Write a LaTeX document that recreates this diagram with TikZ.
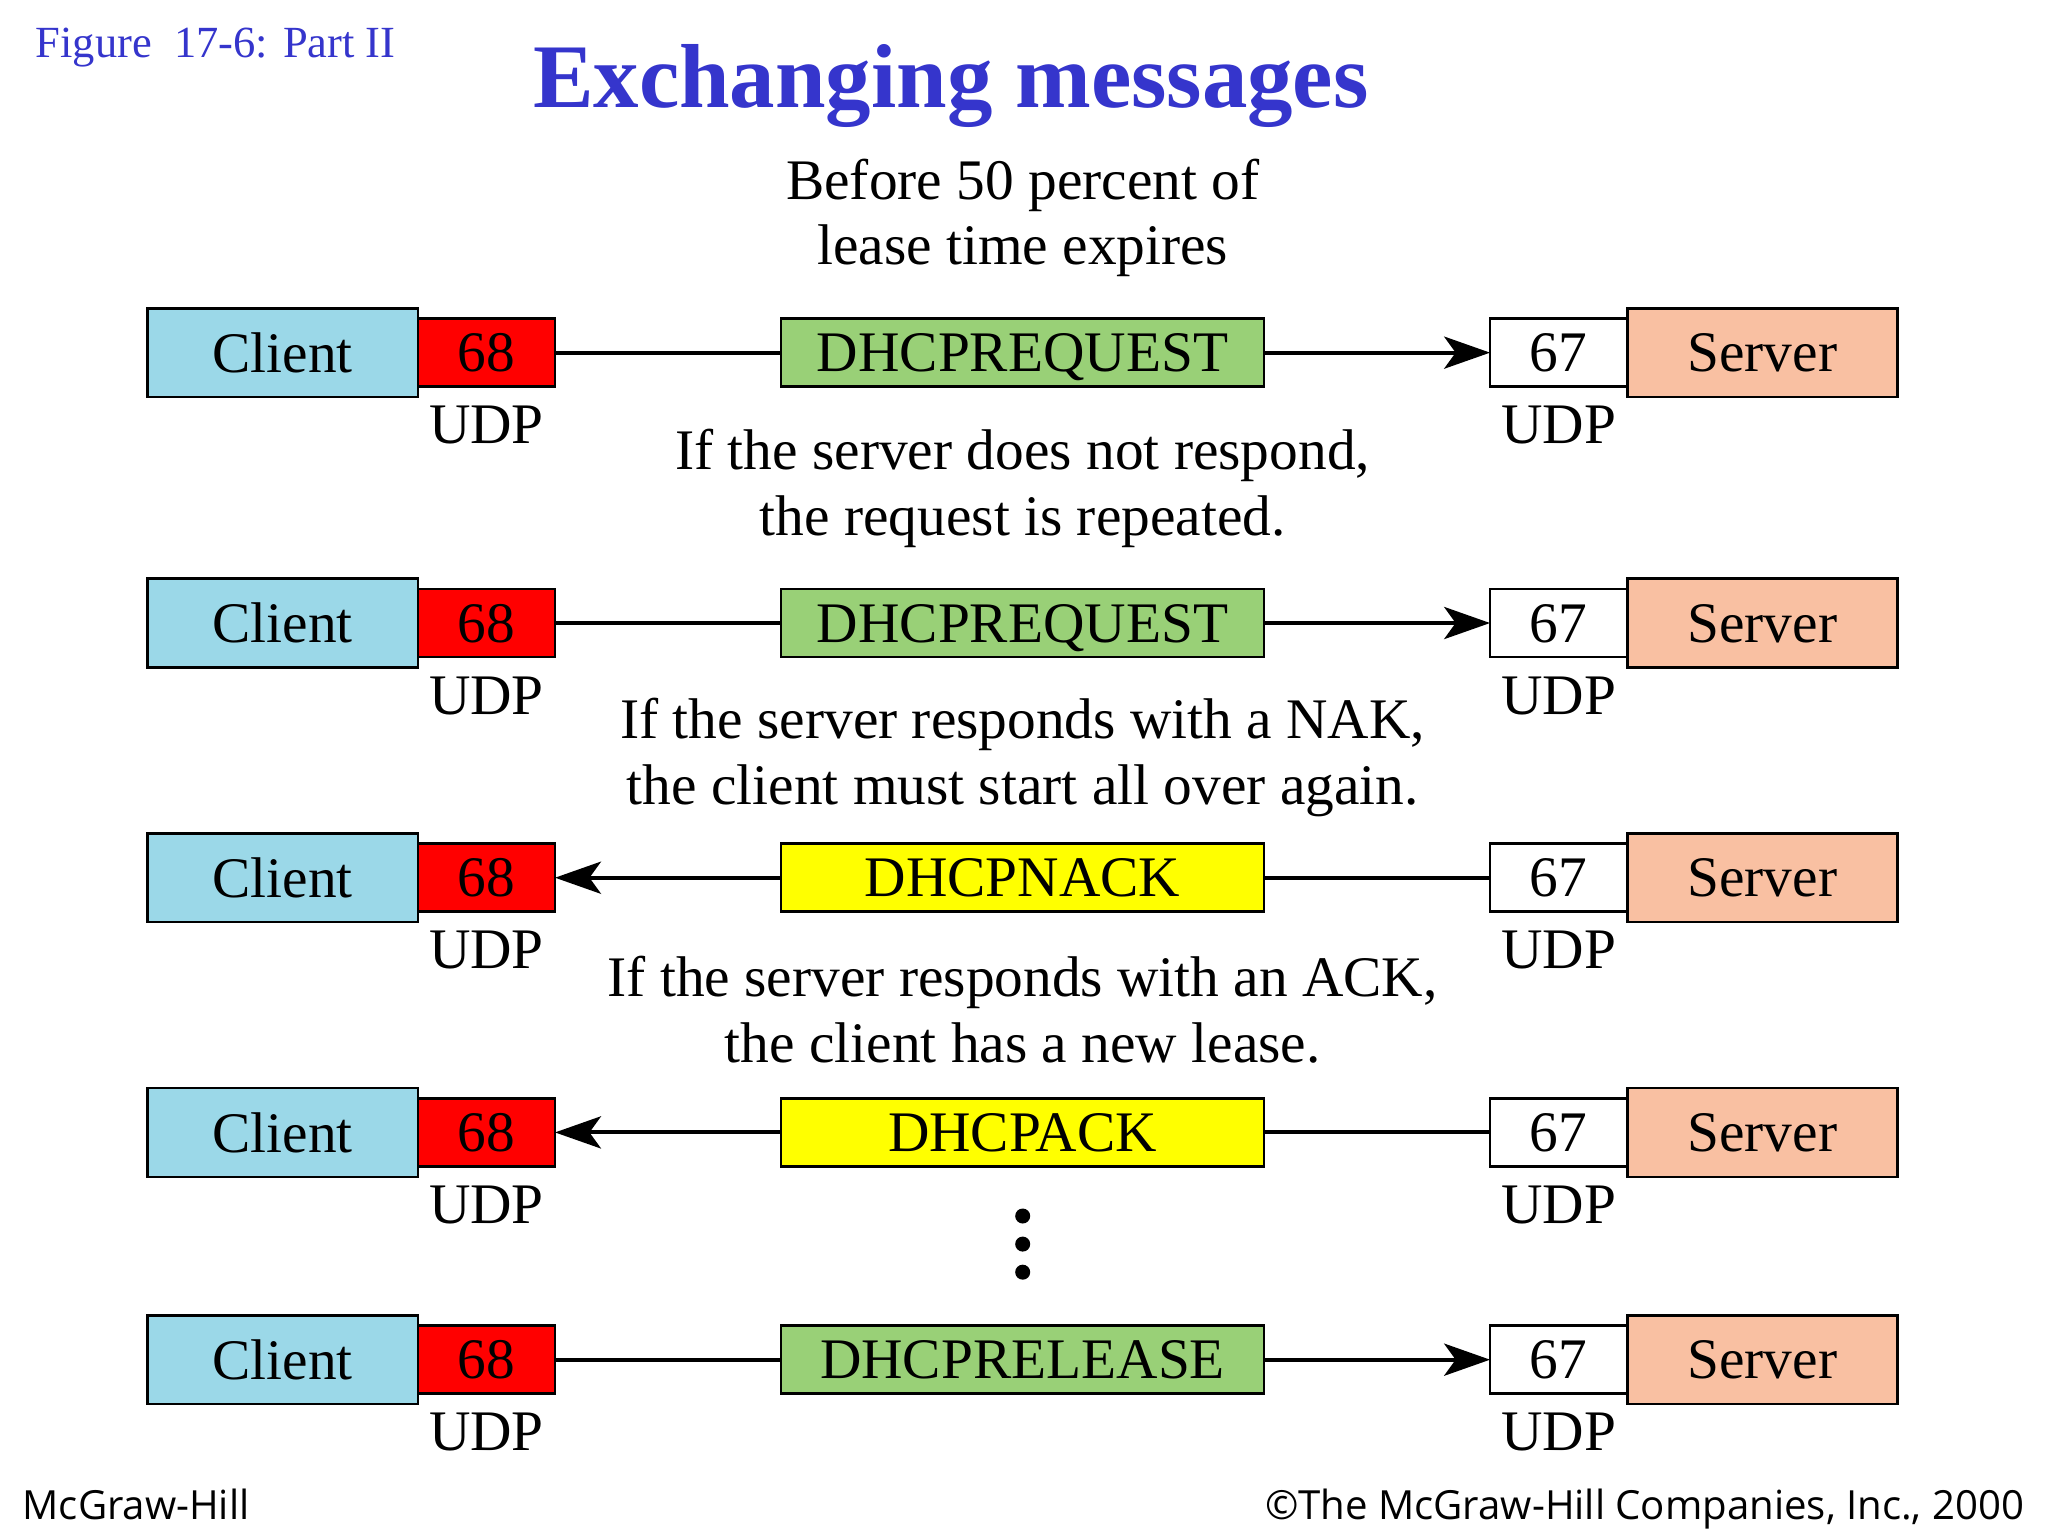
\documentclass[tikz,border=0pt]{standalone}
\usepackage{fontspec}
\setmainfont{Liberation Serif}
\newfontfamily\footfont{Open Sans}
\usepackage{tikz}
\usetikzlibrary{positioning,arrows.meta}
\usepackage{xcolor}
\definecolor{clientblue}{HTML}{9BD8E8}
\definecolor{serversalmon}{HTML}{F9C0A2}
\definecolor{msggreen}{HTML}{99D077}
\definecolor{msgyellow}{HTML}{FFFF00}
\definecolor{titleblue}{HTML}{3535CC}

\begin{document}
\begin{tikzpicture}[
    x=0.02cm, y=-0.02cm,
    every node/.style={font=\fontsize{25}{28.5}\selectfont},
    box/.style={draw, line width=1.15pt, inner sep=0pt, outer sep=0pt, text depth=0pt, minimum height=1.04cm},
    client/.style={box, fill=clientblue, minimum width=4.14cm, minimum height=1.36cm},
    server/.style={box, fill=serversalmon, minimum width=4.14cm, minimum height=1.36cm},
    cport/.style={box, fill=red, minimum width=2.1cm},
    sport/.style={box, fill=white, minimum width=2.1cm},
    msg/.style={box, minimum width=7.4cm},
    note/.style={align=center, inner sep=0pt},
    wire/.style={line width=1.7pt},
    sendarrow/.style={wire, -{Stealth[length=20pt, width=14pt, inset=5pt]}},
    footer/.style={font=\footfont\fontsize{17.5}{20}\selectfont, inner sep=0pt}
]
\useasboundingbox (0,0) rectangle (1568,1176);

% headings
\node[font=\fontsize{19.4}{24}\selectfont, text=titleblue, anchor=base west, inner sep=0pt] (fig) at (27,44) {Figure\ \ 17-6: Part II};
\node[font=\bfseries\fontsize{39.6}{44}\selectfont, text=titleblue, anchor=base] (title) at (728,82) {Exchanging messages};

% row 1
\node[note] (n1) at (783,167) {Before 50 percent of\\lease time expires};
\node[client] (c1) at (216.5,270) {Client};
\node[cport, right=0pt of c1] (cp1) {68};
\node[msg, fill=msggreen, right=3.46cm of cp1] (m1) {DHCPREQUEST};
\node[sport, right=3.46cm of m1] (sp1) {67};
\node[server, right=0pt of sp1] (s1) {Server};
\node[below=5pt of cp1] (cu1) {UDP};
\node[below=5pt of sp1] (su1) {UDP};
\draw[wire] (cp1) -- (m1);
\draw[sendarrow] (m1) -- (sp1);

% row 2
\node[note] (n2) at (783,374) {If the server does not respond,\\the request is repeated.};
\node[client] (c2) at (216.5,477) {Client};
\node[cport, right=0pt of c2] (cp2) {68};
\node[msg, fill=msggreen, right=3.46cm of cp2] (m2) {DHCPREQUEST};
\node[sport, right=3.46cm of m2] (sp2) {67};
\node[server, right=0pt of sp2] (s2) {Server};
\node[below=5pt of cp2] (cu2) {UDP};
\node[below=5pt of sp2] (su2) {UDP};
\draw[wire] (cp2) -- (m2);
\draw[sendarrow] (m2) -- (sp2);

% row 3
\node[note] (n3) at (783,580) {If the server responds with a NAK,\\the client must start all over again.};
\node[client] (c3) at (216.5,672) {Client};
\node[cport, right=0pt of c3] (cp3) {68};
\node[msg, fill=msgyellow, right=3.46cm of cp3] (m3) {DHCPNACK};
\node[sport, right=3.46cm of m3] (sp3) {67};
\node[server, right=0pt of sp3] (s3) {Server};
\node[below=5pt of cp3] (cu3) {UDP};
\node[below=5pt of sp3] (su3) {UDP};
\draw[sendarrow] (m3) -- (cp3);
\draw[wire] (m3) -- (sp3);

% row 4
\node[note] (n4) at (783,773) {If the server responds with an ACK,\\the client has a new lease.};
\node[client] (c4) at (216.5,867) {Client};
\node[cport, right=0pt of c4] (cp4) {68};
\node[msg, fill=msgyellow, right=3.46cm of cp4] (m4) {DHCPACK};
\node[sport, right=3.46cm of m4] (sp4) {67};
\node[server, right=0pt of sp4] (s4) {Server};
\node[below=5pt of cp4] (cu4) {UDP};
\node[below=5pt of sp4] (su4) {UDP};
\draw[sendarrow] (m4) -- (cp4);
\draw[wire] (m4) -- (sp4);

% skipped rows
\foreach \y in {931,952.5,974}
  \fill (783,\y) circle (0.115cm);

% row 5
\node[client] (c5) at (216.5,1041) {Client};
\node[cport, right=0pt of c5] (cp5) {68};
\node[msg, fill=msggreen, right=3.46cm of cp5] (m5) {DHCPRELEASE};
\node[sport, right=3.46cm of m5] (sp5) {67};
\node[server, right=0pt of sp5] (s5) {Server};
\node[below=5pt of cp5] (cu5) {UDP};
\node[below=5pt of sp5] (su5) {UDP};
\draw[wire] (cp5) -- (m5);
\draw[sendarrow] (m5) -- (sp5);

% footer
\node[footer, anchor=base west] (pub) at (17,1163) {McGraw-Hill};
\node[footer, anchor=base east] (copy) at (1550,1163) {©The McGraw-Hill Companies, Inc., 2000};
\end{tikzpicture}
\end{document}
